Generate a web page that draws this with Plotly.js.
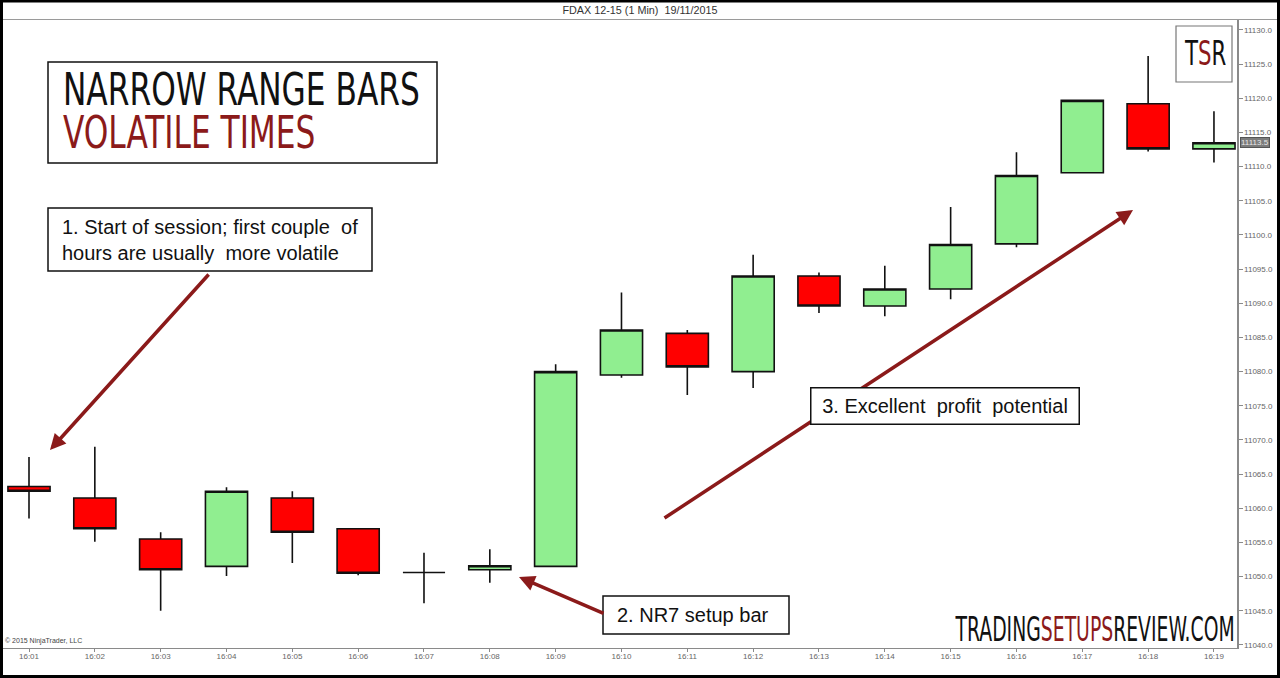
<!DOCTYPE html>
<html>
<head>
<meta charset="utf-8">
<script src="https://cdn.plot.ly/plotly-3.0.1.min.js"></script>
<style>
html,body{margin:0;padding:0;background:#fff;}
#chart{width:1280px;height:678px;}
</style>
</head>
<body>
<div id="chart"></div>
<script>
// ---- data ----
const times = ['16:01','16:02','16:03','16:04','16:05','16:06','16:07','16:08','16:09','16:10',
               '16:11','16:12','16:13','16:14','16:15','16:16','16:17','16:18','16:19'];
const openP  = [11063.2,11061.5,11055.5,11051.5,11061.5,11057.0,11050.6,11051.0,11051.5,11079.5,
                11085.6,11080.0,11094.0,11089.6,11092.1,11098.7,11109.1,11119.2,11112.6];
const highP  = [11067.5,11069.0,11056.5,11063.1,11062.5,11057.1,11053.5,11054.0,11081.1,11091.6,
                11086.1,11097.1,11094.5,11095.5,11104.1,11112.1,11119.7,11126.2,11118.1];
const lowP   = [11058.5,11055.1,11045.0,11050.1,11052.0,11050.2,11046.1,11049.1,11051.5,11079.1,
                11076.6,11077.6,11088.6,11088.1,11090.6,11098.2,11109.1,11112.2,11110.6];
const closeP = [11062.5,11057.0,11051.0,11062.5,11056.5,11050.5,11050.6,11051.6,11080.0,11086.1,
                11080.7,11094.0,11089.6,11092.1,11098.6,11108.7,11119.7,11112.6,11113.5];
const yTicks = [11040,11045,11050,11055,11060,11065,11070,11075,11080,11085,11090,11095,
                11100,11105,11110,11115,11120,11125,11130];
const lastPrice = 11113.5;

// ---- geometry helpers (page pixels -> paper coords) ----
const W = 1280, H = 678, ML = 3, MR = 43, MT = 20, MB = 30;
const PW = W - ML - MR, PH = H - MT - MB;
const px = x => (x - ML) / PW;
const py = y => (H - MB - y) / PH;

const DR = '#8b1a1a';
const NARROW = 'DejaVu Sans Condensed, Liberation Sans Narrow, sans-serif';
const SANS = 'Liberation Sans, Arial, sans-serif';

const trace = {
  type: 'candlestick',
  x: times, open: openP, high: highP, low: lowP, close: closeP,
  increasing: {line: {color: '#111', width: 1.6}, fillcolor: '#90ee90'},
  decreasing: {line: {color: '#111', width: 1.6}, fillcolor: '#ff0000'},
  whiskerwidth: 0,
  hoverinfo: 'skip'
};

const shapes = [
  {type:'line', xref:'paper', yref:'paper', x0:px(3), x1:px(1277), y0:py(19.5), y1:py(19.5),
   line:{color:'#9a9a9a', width:1}},
  {type:'rect', xref:'paper', yref:'paper', x0:px(48), x1:px(437), y0:py(62), y1:py(163),
   line:{color:'#111', width:1.5}, fillcolor:'#fff'},
  {type:'rect', xref:'paper', yref:'paper', x0:px(48), x1:px(372), y0:py(208), y1:py(271),
   line:{color:'#111', width:1.5}, fillcolor:'#fff'},
  {type:'rect', xref:'paper', yref:'paper', x0:px(603), x1:px(789), y0:py(596), y1:py(634),
   line:{color:'#111', width:1.5}, fillcolor:'#fff'},
  {type:'rect', xref:'paper', yref:'paper', x0:px(1176), x1:px(1232), y0:py(26), y1:py(82),
   line:{color:'#777', width:1.2}, fillcolor:'#fff'},
  {type:'rect', xref:'paper', yref:'paper', x0:px(1.5), x1:px(1278.5), y0:py(1), y1:py(676.5),
   line:{color:'#000', width:3}}
];

const annotations = [
  {xref:'paper', yref:'paper', x:px(50), y:py(450), ax:160, ay:-177, text:'', showarrow:true,
   arrowcolor:DR, arrowwidth:3.5, arrowhead:2, arrowsize:0.9},
  {xref:'paper', yref:'paper', x:px(519), y:py(577), ax:86, ay:37, text:'', showarrow:true,
   arrowcolor:DR, arrowwidth:3.5, arrowhead:2, arrowsize:0.9},
  {xref:'paper', yref:'paper', x:px(1133), y:py(210), ax:-470, ay:309, text:'', showarrow:true,
   arrowcolor:DR, arrowwidth:3.5, arrowhead:2, arrowsize:0.9},
  {xref:'paper', yref:'paper', x:px(944.5), y:py(405.5), xanchor:'center', yanchor:'middle',
   text:'3. Excellent  profit  potential', showarrow:false, width:263, height:31, borderpad:2,
   bgcolor:'#fff', bordercolor:'#111', borderwidth:1.5, align:'center',
   font:{family:SANS, size:20, color:'#111'}},
  // two-line headline (one text; line gap and narrow width set after drawing)
  {xref:'paper', yref:'paper', x:px(62), y:py(64), xanchor:'left', yanchor:'top', align:'left',
   showarrow:false, borderpad:0,
   text:'NARROW RANGE BARS<br><span style="color:'+DR+'">VOLATILE TIMES</span>',
   font:{family:NARROW, size:45, color:'#111'}},
  {xref:'paper', yref:'paper', x:px(60), y:py(240), xanchor:'left', yanchor:'middle', showarrow:false,
   align:'left', text:'1. Start of session; first couple  of<br>hours are usually  more volatile',
   font:{family:SANS, size:20, color:'#111'}},
  {xref:'paper', yref:'paper', x:px(615), y:py(615), xanchor:'left', yanchor:'middle', showarrow:false,
   text:'2. NR7 setup bar', font:{family:SANS, size:20, color:'#111'}},
  {xref:'paper', yref:'paper', x:px(1205), y:py(53.5), xanchor:'center', yanchor:'middle', showarrow:false,
   height:30, borderpad:0, text:'T<span style="color:'+DR+'">S</span>R',
   font:{family:NARROW, size:34, color:'#111'}},
  {xref:'paper', yref:'paper', x:px(1095), y:py(629), xanchor:'center', yanchor:'middle', align:'center',
   showarrow:false, height:26, borderpad:0,
   text:'TRADING<span style="color:'+DR+'">SETUPS</span>REVIEW.COM',
   font:{family:NARROW, size:33, color:'#111'}},
  {xref:'paper', yref:'paper', x:px(3), y:py(641), xanchor:'left', yanchor:'middle', showarrow:false,
   text:'© 2015 NinjaTrader, LLC', font:{family:SANS, size:7, color:'#444'}},
  {xref:'paper', yref:'y', x:px(1240), y:lastPrice, xanchor:'left', yanchor:'middle', showarrow:false,
   text:String(lastPrice.toFixed(1)), bgcolor:'#7c7c7c', bordercolor:'#555', borderwidth:1, borderpad:0,
   font:{family:SANS, size:8, color:'#e8e8e8'}}
];

const layout = {
  width: W, height: H,
  margin: {l: ML, r: MR, t: MT, b: MB, pad: 0},
  paper_bgcolor: '#fff', plot_bgcolor: '#fff',
  showlegend: false,
  boxgap: 0.36, boxgroupgap: 0,
  title: {text: 'FDAX 12-15 (1 Min)  19/11/2015', x: 0.5, xanchor: 'center',
          y: 1 - 10/H, yanchor: 'middle', font: {family: SANS, size: 10.8, color: '#333'}},
  xaxis: {
    type: 'category', range: [-0.395, 18.35], rangeslider: {visible: false},
    showgrid: false, zeroline: false,
    showline: true, linecolor: '#8a8a8a', linewidth: 1,
    ticks: 'outside', ticklen: 3, tickcolor: '#8a8a8a', ticklabelstandoff: -3,
    tickfont: {family: SANS, size: 8, color: '#666'}, fixedrange: true
  },
  yaxis: {
    side: 'right', range: [11039.56, 11131.46],
    tickvals: yTicks, tickformat: '.1f',
    showgrid: false, zeroline: false,
    showline: true, linecolor: '#8a8a8a', linewidth: 1.5,
    ticks: 'outside', ticklen: 4, tickcolor: '#8a8a8a',
    tickfont: {family: SANS, size: 8, color: '#666'}, fixedrange: true
  },
  shapes: shapes,
  annotations: annotations
};

// narrow display lettering: target widths / line placement of the reference
const fitScale = {'TSR': 42, 'TRADINGSETUPSREVIEW.COM': 280};
const HEAD_W = 357, HEAD_BASE = 105, HEAD_GAP = 43;

function squeeze(t, target) {
  const bb = t.getBBox();
  if (!bb.width) return;
  const s = target / bb.width;
  const cx = bb.x + bb.width / 2;
  const prev = t.getAttribute('transform') || '';
  t.setAttribute('transform', prev + ' translate(' + cx + ',0) scale(' + s + ',1) translate(' + (-cx) + ',0)');
}

Plotly.newPlot('chart', [trace], layout, {staticPlot: true, displayModeBar: false}).then(gd => {
  gd.querySelectorAll('.annotation-text').forEach(t => {
    const key = t.textContent;
    if (fitScale[key]) { squeeze(t, fitScale[key]); return; }
    if (key.indexOf('NARROW RANGE BARS') === 0) {
      const lines = t.querySelectorAll('tspan.line');
      const y0 = parseFloat(t.getAttribute('y'));
      const x0 = parseFloat(t.getAttribute('x'));
      const bbLocal = t.getBBox();
      const ascent = y0 - bbLocal.y;
      const pageBaseline = t.getBoundingClientRect().top + ascent;
      if (lines.length > 1) lines[1].setAttribute('dy', HEAD_GAP);
      const w1 = lines.length ? lines[0].getComputedTextLength() : bbLocal.width;
      const s = HEAD_W / w1;
      const dy = HEAD_BASE - pageBaseline;
      const prev = t.getAttribute('transform') || '';
      if (isFinite(s) && isFinite(dy)) {
        t.setAttribute('transform', prev + ' translate(0,' + dy + ') translate(' + x0 + ',0) scale(' + s + ',1) translate(' + (-x0) + ',0)');
      }
    }
  });
});
</script>
</body>
</html>
